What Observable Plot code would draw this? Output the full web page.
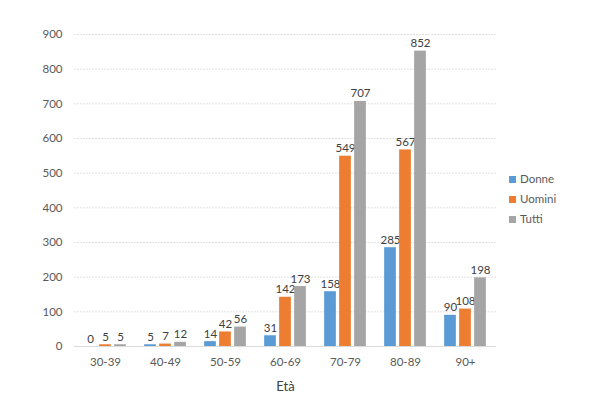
<!DOCTYPE html>
<html>
<head>
<meta charset="utf-8">
<script src="https://cdn.jsdelivr.net/npm/d3@7"></script>
<script src="https://cdn.jsdelivr.net/npm/@observablehq/plot@0.6"></script>
<style>
  html, body { margin: 0; padding: 0; background: #fff; }
  #wrap { position: relative; width: 616px; height: 405px; font-family: Lato, "Open Sans", sans-serif; }
  #legend { position: absolute; left: 509px; top: 169px; font-size: 11.5px; color: #595959; }
  #legend div { height: 20px; line-height: 14px; display: flex; align-items: center; }
  #legend span.sw { display: inline-block; width: 7px; height: 7px; margin-right: 4px; }
</style>
</head>
<body>
<div id="wrap"><div id="chart"></div><div id="legend"></div></div>
<script>
const ages = ["30-39", "40-49", "50-59", "60-69", "70-79", "80-89", "90+"];
const series = ["Donne", "Uomini", "Tutti"];
const colors = ["#5B9BD5", "#ED7D31", "#A5A5A5"];
const donne = [0, 5, 14, 31, 158, 285, 90];
const uomini = [5, 7, 42, 142, 549, 567, 108];
const tutti = [5, 12, 56, 173, 707, 852, 198];
const yTicks = [0, 100, 200, 300, 400, 500, 600, 700, 800, 900];

const values = [donne, uomini, tutti];
const data = [];
series.forEach((s, i) => ages.forEach((a, j) => data.push({age: a, series: s, value: values[i][j]})));

const bw = (496 - 74) / ages.length;
const barW = 12, gap = 3;
const offsets = [-(barW + gap), 0, barW + gap];

const marks = [
  Plot.ruleY(yTicks.filter(d => d > 0), {stroke: "#d9d9d9", strokeDasharray: "2,1", strokeWidth: 0.8}),
  Plot.ruleY([0], {stroke: "#d9d9d9", strokeWidth: 1})
];
series.forEach((s, i) => {
  const sub = data.filter(d => d.series === s);
  const center = bw / 2 + offsets[i];
  marks.push(Plot.barY(sub, {
    x: "age", y: "value", fill: colors[i],
    insetLeft: center - barW / 2, insetRight: bw - center - barW / 2
  }));
  marks.push(Plot.text(sub, {
    x: "age", y: "value", text: d => String(d.value), dx: offsets[i], dy: -4,
    lineAnchor: "bottom", fill: "#404040", fontSize: 11.5
  }));
});

const chart = Plot.plot({
  width: 616,
  height: 405,
  marginTop: 34,
  marginBottom: 59,
  marginLeft: 74,
  marginRight: 120,
  style: {fontFamily: "Lato, 'Open Sans', sans-serif", fontSize: "11.5px", color: "#595959", background: "#fff"},
  x: {domain: ages, padding: 0, tickSize: 0, tickPadding: 11, label: "Età", labelAnchor: "center", labelOffset: 44},
  y: {domain: [0, 900], ticks: yTicks, tickSize: 0, tickPadding: 12, label: null},
  marks
});
document.getElementById("chart").appendChild(chart);

d3.select(chart).selectAll("g[aria-label='x-axis label'] text, g[aria-label='x-axis'] > text")
  .attr("fill", "#404040").style("font-size", "13px");

const legend = d3.select("#legend");
series.forEach((s, i) => {
  const row = legend.append("div");
  row.append("span").attr("class", "sw").style("background", colors[i]);
  row.append("span").text(s);
});
</script>
</body>
</html>
